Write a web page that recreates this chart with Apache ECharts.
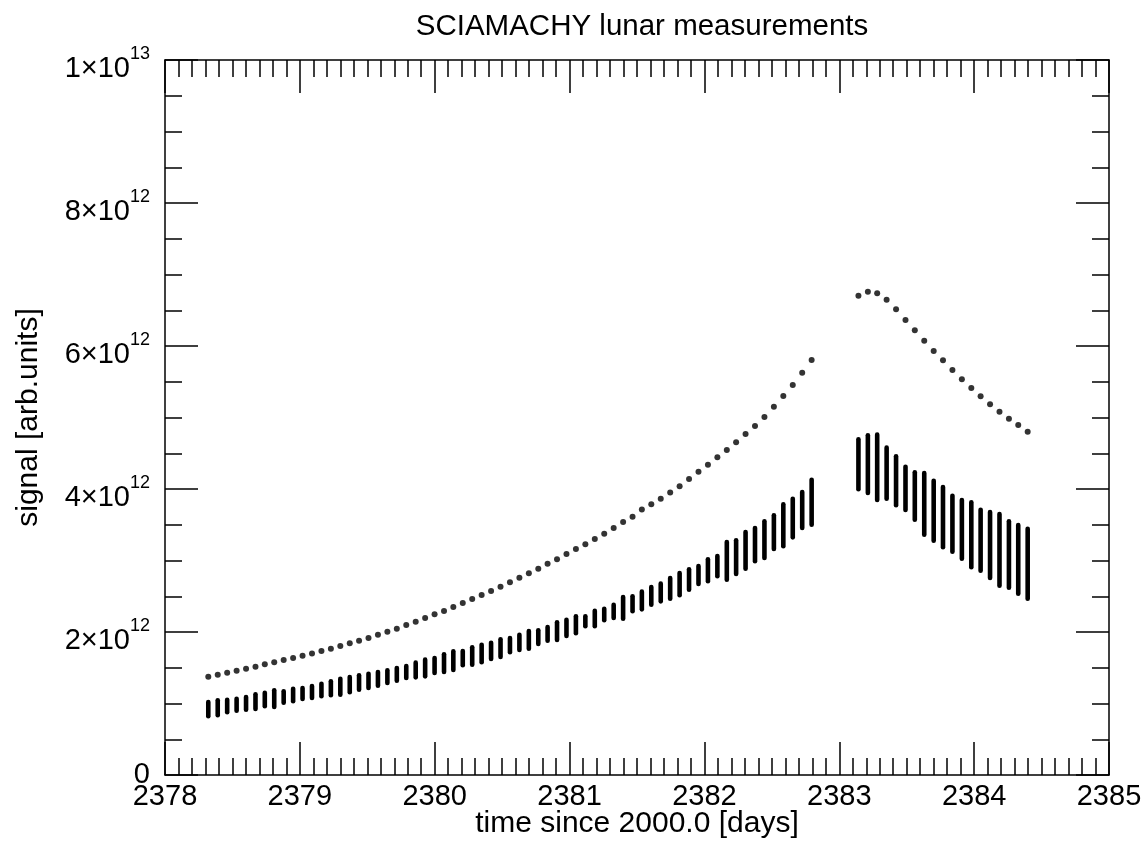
<!DOCTYPE html>
<html>
<head>
<meta charset="utf-8">
<script src="https://cdn.jsdelivr.net/npm/echarts@6/dist/echarts.min.js"></script>
<style>
html,body{margin:0;padding:0;background:#fff;}
#chart{width:1145px;height:843px;}
</style>
</head>
<body>
<div id="chart"></div>
<script>
// time since 2000.0 [days], one entry per orbit
const timeSeg1 = [2378.321,2378.391,2378.461,2378.531,2378.601,2378.671,2378.740,2378.810,2378.880,2378.950,
2379.020,2379.090,2379.160,2379.230,2379.300,2379.370,2379.439,2379.509,2379.579,2379.649,
2379.719,2379.789,2379.859,2379.929,2379.999,2380.069,2380.138,2380.208,2380.278,2380.348,
2380.418,2380.488,2380.558,2380.628,2380.698,2380.768,2380.837,2380.907,2380.977,2381.047,
2381.117,2381.187,2381.257,2381.327,2381.397,2381.467,2381.536,2381.606,2381.676,2381.746,
2381.816,2381.886,2381.956,2382.026,2382.096,2382.166,2382.235,2382.305,2382.375,2382.445,
2382.515,2382.585,2382.655,2382.725,2382.795];
const timeSeg2 = [2383.142,2383.212,2383.281,2383.351,2383.421,2383.491,2383.560,2383.630,2383.700,2383.769,
2383.839,2383.909,2383.979,2384.048,2384.118,2384.188,2384.258,2384.327,2384.397];

// upper series (units of 1e12)
const upperSeg1 = [1.375,1.403,1.431,1.459,1.487,1.515,1.548,1.576,1.608,1.636,1.668,1.701,1.734,1.766,1.804,1.841,1.878,1.916,1.962,2.004,2.046,2.098,2.144,2.196,2.248,2.294,
2.350,2.406,2.462,2.517,2.573,2.634,2.695,2.760,2.821,2.886,2.956,3.017,3.091,3.161,3.226,3.301,3.375,3.455,3.538,3.613,3.713,3.787,3.863,3.950,4.039,4.140,4.242,4.340,4.443,4.545,
4.653,4.769,4.881,5.007,5.151,5.301,5.455,5.627,5.804];
const upperSeg2 = [6.703,6.759,6.737,6.647,6.513,6.364,6.219,6.074,5.930,5.800,5.664,5.534,5.413,5.297,5.185,5.081,4.983,4.895,4.801];

// lower series: per-orbit spread (min / max), units of 1e12
const lowerHiSeg1 = [1.021,1.045,1.053,1.067,1.091,1.129,1.151,1.185,1.171,1.207,1.217,1.245,1.277,1.310,1.347,1.371,1.394,1.417,1.441,1.464,1.497,1.524,1.571,1.613,1.636,1.688,
1.730,1.734,1.786,1.822,1.850,1.898,1.916,1.962,2.014,2.024,2.070,2.136,2.172,2.220,2.220,2.298,2.326,2.382,2.490,2.499,2.564,2.629,2.676,2.755,2.825,2.877,2.923,3.017,3.063,3.259,3.282,3.399,3.455,3.548,3.632,3.786,3.864,3.958,4.130];
const lowerLoSeg1 = [0.821,0.835,0.877,0.899,0.913,0.923,0.961,0.951,1.011,1.031,1.063,1.077,1.101,1.115,1.123,1.157,1.193,1.217,1.249,1.287,1.319,1.357,1.366,1.380,1.427,1.441,
1.469,1.534,1.543,1.576,1.622,1.650,1.716,1.748,1.766,1.832,1.878,1.888,1.944,1.982,2.080,2.080,2.164,2.196,2.186,2.290,2.317,2.382,2.429,2.466,2.513,2.592,2.671,2.709,2.779,2.731,2.811,2.885,2.989,3.035,3.161,3.199,3.324,3.455,3.501];
const lowerHiSeg2 = [4.695,4.751,4.760,4.578,4.457,4.312,4.234,4.224,4.116,4.028,3.906,3.846,3.814,3.710,3.678,3.650,3.548,3.497,3.445];
const lowerLoSeg2 = [3.996,3.944,3.846,3.864,3.772,3.706,3.571,3.361,3.277,3.185,3.123,3.025,2.905,2.857,2.755,2.648,2.620,2.536,2.466];

const xTicks = [2378,2379,2380,2381,2382,2383,2384,2385];
const yTickMantissa = {2:'2',4:'4',6:'6',8:'8'};

const times = timeSeg1.concat(timeSeg2);
const upper = upperSeg1.concat(upperSeg2);
const lo = lowerLoSeg1.concat(lowerLoSeg2);
const hi = lowerHiSeg1.concat(lowerHiSeg2);

const upperData = times.map((t,i)=>[t, upper[i]]);
const lowerData = times.map((t,i)=>[t, lo[i], hi[i]]);

const FONT = '"Liberation Sans", Arial, Helvetica, sans-serif';
const lineStyle = {color:'#000', width:1.5};

function yFmt(v){
  if (v === 0) return '{z|0}';
  if (v === 10) return '{p| }{b|1×10}{s|13}';
  return '{p| }{b|' + yTickMantissa[v] + '×10}{s|12}';
}

const chart = echarts.init(document.getElementById('chart'), null, {renderer:'canvas'});
chart.setOption({
  animation:false,
  backgroundColor:'#fff',
  title:{
    text:'SCIAMACHY lunar measurements',
    left:637, top:7, textAlign:'center',
    textStyle:{fontFamily:FONT, fontSize:29.5, fontWeight:'normal', color:'#000'}
  },
  grid:{left:165, right:36, top:60, bottom:68, containLabel:false, outerBoundsMode:'none'},
  xAxis:[{
    type:'value', min:2378, max:2385, interval:1, position:'bottom',
    name:'time since 2000.0 [days]', nameLocation:'middle', nameGap:34, nameMoveOverlap:false,
    nameTextStyle:{fontFamily:FONT, fontSize:30, color:'#000'},
    axisLine:{show:true, onZero:false, lineStyle},
    axisTick:{show:true, inside:true, length:33, lineStyle},
    minorTick:{show:true, splitNumber:10, length:17, lineStyle},
    splitLine:{show:false},
    axisLabel:{show:true, margin:7, fontFamily:FONT, fontSize:29, color:'#000',
      formatter:(v)=> xTicks.indexOf(v) >= 0 ? String(v) : ''}
  },{
    type:'value', min:2378, max:2385, interval:1, position:'top',
    axisLine:{show:true, onZero:false, lineStyle},
    axisTick:{show:true, inside:true, length:33, lineStyle},
    minorTick:{show:true, splitNumber:10, length:17, lineStyle},
    splitLine:{show:false},
    axisLabel:{show:false}
  }],
  yAxis:[{
    type:'value', min:0, max:10, interval:2, position:'left',
    name:'signal [arb.units]', nameLocation:'middle', nameGap:121, nameRotate:90, nameMoveOverlap:false,
    nameTextStyle:{fontFamily:FONT, fontSize:30, color:'#000'},
    axisLine:{show:true, onZero:false, lineStyle},
    axisTick:{show:true, inside:true, length:33, lineStyle},
    minorTick:{show:true, splitNumber:4, length:17, lineStyle},
    splitLine:{show:false},
    axisLabel:{show:true, margin:15, formatter:yFmt, color:'#000', padding:[9,0,0,0],
      rich:{
        z:{fontFamily:FONT, fontSize:29, lineHeight:29, padding:[0,0,9,0], color:'#000'},
        p:{fontFamily:FONT, fontSize:2, lineHeight:38, verticalAlign:'middle'},
        b:{fontFamily:FONT, fontSize:29, lineHeight:29, verticalAlign:'bottom', color:'#000'},
        s:{fontFamily:FONT, fontSize:18, lineHeight:26, verticalAlign:'top', color:'#000'}
      }}
  },{
    type:'value', min:0, max:10, interval:2, position:'right',
    axisLine:{show:true, onZero:false, lineStyle},
    axisTick:{show:true, inside:true, length:33, lineStyle},
    minorTick:{show:true, splitNumber:4, length:17, lineStyle},
    splitLine:{show:false},
    axisLabel:{show:false}
  }],
  series:[{
    type:'custom',
    xAxisIndex:0, yAxisIndex:0,
    data:lowerData,
    encode:{x:0, y:[1,2]},
    renderItem:function(params, api){
      const x = api.value(0);
      const p1 = api.coord([x, api.value(1)]);
      const p2 = api.coord([x, api.value(2)]);
      return {type:'line', shape:{x1:p1[0], y1:p1[1], x2:p2[0], y2:p2[1]},
        style:{stroke:'#000', lineWidth:4.6, lineCap:'round'}};
    },
    silent:true
  },{
    type:'scatter',
    xAxisIndex:0, yAxisIndex:0,
    data:upperData,
    symbol:'circle', symbolSize:6,
    itemStyle:{color:'#000'},
    silent:true
  }]
});
</script>
</body>
</html>
